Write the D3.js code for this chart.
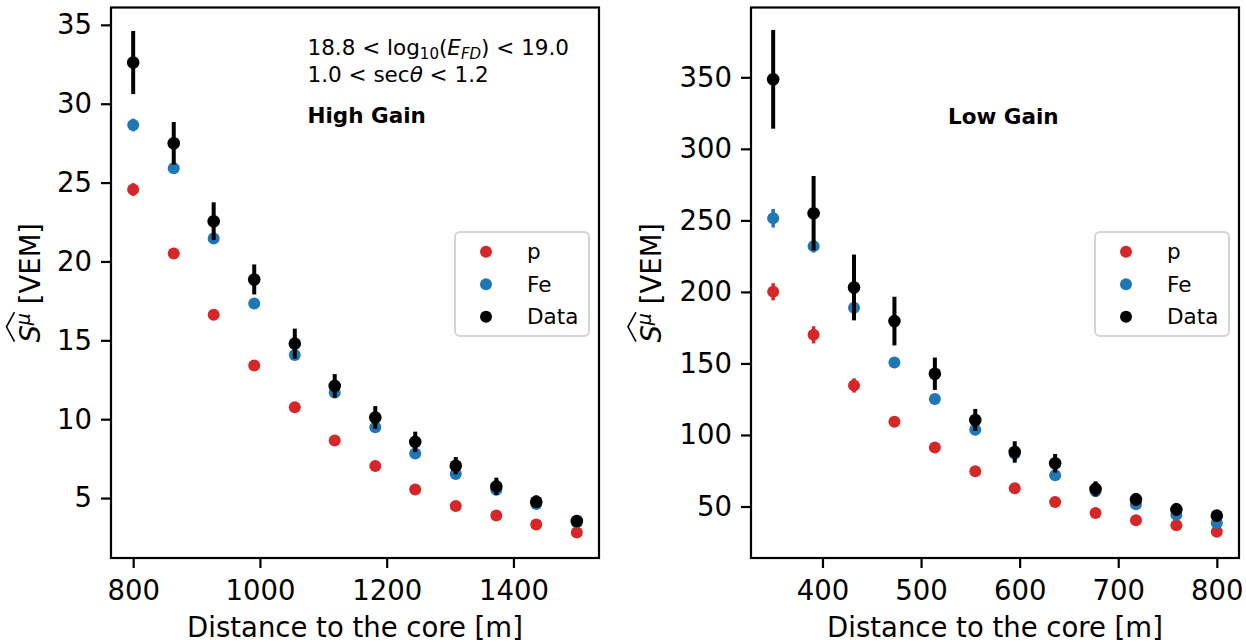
<!DOCTYPE html>
<html lang="en">
  <head>
    <meta charset="UTF-8" />
    <title>Muon signal vs distance</title>
    <script src="https://d3js.org/d3.v7.min.js"></script>
    <style>
      body {
        margin: 0;
        background: white;
      }
      text {
        font-family: "DejaVu Sans", sans-serif;
        fill: black;
      }
    </style>
  </head>
  <body>
    <svg id="chart" width="1246" height="644"></svg>
    <script>
      // High gain panel
      const hgDist = [800, 864, 927, 991, 1055, 1118, 1182, 1245, 1309, 1373, 1436, 1500];
      const hgP = [24.56, 20.51, 16.62, 13.4, 10.76, 8.65, 7.03, 5.55, 4.49, 3.9, 3.33, 2.82];
      const hgPErr = [0.4, 0.35, 0.25, 0.2, 0.15, 0.12, 0.1, 0.1, 0.08, 0.08, 0.07, 0.06];
      const hgFe = [28.65, 25.91, 21.46, 17.34, 14.07, 11.69, 9.49, 7.83, 6.52, 5.53, 4.62, 3.46];
      const hgFeErr = [0.4, 0.3, 0.25, 0.2, 0.2, 0.15, 0.12, 0.1, 0.1, 0.08, 0.07, 0.06];
      const hgData = [32.61, 27.49, 22.55, 18.86, 14.79, 12.11, 10.11, 8.56, 7.05, 5.74, 4.77, 3.55];
      const hgDataErr = [2.0, 1.35, 1.2, 0.95, 0.95, 0.75, 0.72, 0.65, 0.55, 0.55, 0.4, 0.2];

      // Low gain panel
      const lgDist = [350, 391, 432, 473, 514, 555, 595, 636, 677, 718, 759, 800];
      const lgP = [200.1, 170.0, 134.6, 109.3, 91.3, 74.6, 62.7, 53.2, 45.5, 40.4, 36.9, 32.3];
      const lgPErr = [6, 6, 5, 2.5, 2, 2, 1.5, 1.5, 1.2, 1, 1, 1];
      const lgFe = [251.5, 232.0, 188.9, 150.7, 125.1, 103.7, 86.9, 71.8, 60.9, 51.5, 44.3, 38.5];
      const lgFeErr = [6.5, 4.5, 3, 3, 2, 2, 1.5, 1.5, 1.2, 1, 1, 1];
      const lgData = [348.6, 255.0, 203.1, 179.6, 142.8, 110.5, 88.1, 80.2, 62.3, 55.0, 48.0, 43.6];
      const lgDataErr = [34.5, 26, 23, 17, 11.3, 7.7, 7.5, 6.5, 5.3, 4.5, 4.5, 2];

      const hgXTicks = [800, 1000, 1200, 1400];
      const hgYTicks = [5, 10, 15, 20, 25, 30, 35];
      const lgXTicks = [400, 500, 600, 700, 800];
      const lgYTicks = [50, 100, 150, 200, 250, 300, 350];

      const seriesNames = ["p", "Fe", "Data"];
      const colors = { p: "#d62728", Fe: "#1f77b4", Data: "#000000" };

      const svg = d3.select("#chart");
      const TICK_FONT = 27.5;
      const LEG_FONT = 21.5;

      function drawPanel(cfg) {
        const x = d3.scaleLinear().domain(cfg.xDomain).range([cfg.left, cfg.right]);
        const y = d3.scaleLinear().domain(cfg.yDomain).range([cfg.bottom, cfg.top]);
        const g = svg.append("g");

        // axes
        const xAxis = g
          .append("g")
          .attr("transform", `translate(0,${cfg.bottom})`)
          .call(d3.axisBottom(x).tickValues(cfg.xTicks).tickFormat(d3.format("d")).tickSize(10).tickPadding(6));
        const yAxis = g
          .append("g")
          .attr("transform", `translate(${cfg.left},0)`)
          .call(d3.axisLeft(y).tickValues(cfg.yTicks).tickFormat(d3.format("d")).tickSize(10).tickPadding(9));
        [xAxis, yAxis].forEach((a) => {
          a.select(".domain").remove();
          a.selectAll("line").attr("stroke", "black").attr("stroke-width", 2.2);
          a.selectAll("text").style("font-size", TICK_FONT + "px").attr("fill", "black");
        });
        xAxis.selectAll("text").attr("dy", null).attr("y", 41.5);

        // series
        const series = [
          { name: "p", vals: cfg.p, errs: cfg.pErr, r: 6, w: 3.5 },
          { name: "Fe", vals: cfg.fe, errs: cfg.feErr, r: 6, w: 3.5 },
          { name: "Data", vals: cfg.data, errs: cfg.dataErr, r: 6.3, w: 4 },
        ];
        series.forEach((s) => {
          const pts = cfg.dist.map((d, i) => ({ d, v: s.vals[i], e: s.errs[i] }));
          const sg = g.append("g");
          sg.selectAll("line")
            .data(pts)
            .enter()
            .append("line")
            .attr("x1", (p) => x(p.d))
            .attr("x2", (p) => x(p.d))
            .attr("y1", (p) => y(p.v - p.e))
            .attr("y2", (p) => y(p.v + p.e))
            .attr("stroke", colors[s.name])
            .attr("stroke-width", s.w);
          sg.selectAll("circle")
            .data(pts)
            .enter()
            .append("circle")
            .attr("cx", (p) => x(p.d))
            .attr("cy", (p) => y(p.v))
            .attr("r", s.r)
            .attr("fill", colors[s.name]);
        });

        // frame
        g.append("rect")
          .attr("x", cfg.left)
          .attr("y", cfg.top)
          .attr("width", cfg.right - cfg.left)
          .attr("height", cfg.bottom - cfg.top)
          .attr("fill", "none")
          .attr("stroke", "black")
          .attr("stroke-width", 2.2);

        // x label
        g.append("text")
          .attr("x", (cfg.left + cfg.right) / 2)
          .attr("y", 636.5)
          .attr("text-anchor", "middle")
          .style("font-size", TICK_FONT + "px")
          .text("Distance to the core [m]");

        // y label: widehat{S^mu} [VEM]
        const yl = g
          .append("g")
          .attr("transform", `translate(${cfg.yLabelX},${(cfg.top + cfg.bottom) / 2}) rotate(-90)`);
        const lt = yl.append("text").style("font-size", TICK_FONT + "px");
        lt.append("tspan").style("font-style", "italic").text("S");
        lt.append("tspan").style("font-style", "italic").style("font-size", "19px").attr("dy", -10).text("μ");
        lt.append("tspan").attr("dy", 10).text(" [VEM]");
        const total = lt.node().getComputedTextLength();
        const hatW = lt.node().getSubStringLength(0, 2);
        const x0 = -total / 2;
        lt.attr("x", x0);
        lt.select("tspan").attr("x", x0);
        yl.append("path")
          .attr("d", `M${x0 + 1},-25 L${x0 + hatW / 2 + 1},-33 L${x0 + hatW + 1},-25`)
          .attr("fill", "none")
          .attr("stroke", "black")
          .attr("stroke-width", 1.6);

        // legend
        const lg = g.append("g");
        lg.append("rect")
          .attr("x", cfg.right - 144)
          .attr("y", 232)
          .attr("width", 134)
          .attr("height", 104)
          .attr("rx", 5)
          .attr("fill", "white")
          .attr("fill-opacity", 0.8)
          .attr("stroke", "#d4d4d4")
          .attr("stroke-width", 2);
        seriesNames.forEach((n, i) => {
          const cy = 251.7 + i * 32.5;
          lg.append("circle")
            .attr("cx", cfg.right - 113)
            .attr("cy", cy)
            .attr("r", 6)
            .attr("fill", colors[n]);
          lg.append("text")
            .attr("x", cfg.right - 72)
            .attr("y", cy + 7.7)
            .style("font-size", LEG_FONT + "px")
            .text(n);
        });

        return { g, x, y };
      }

      const left = drawPanel({
        left: 111,
        right: 599,
        top: 7.5,
        bottom: 558,
        xDomain: [765, 1535],
        yDomain: [1.2, 36.1],
        xTicks: hgXTicks,
        yTicks: hgYTicks,
        dist: hgDist,
        p: hgP,
        pErr: hgPErr,
        fe: hgFe,
        feErr: hgFeErr,
        data: hgData,
        dataErr: hgDataErr,
        yLabelX: 39.5,
      });

      const right = drawPanel({
        left: 751,
        right: 1239,
        top: 7.5,
        bottom: 558,
        xDomain: [327.5, 822.5],
        yDomain: [14, 398.8],
        xTicks: lgXTicks,
        yTicks: lgYTicks,
        dist: lgDist,
        p: lgP,
        pErr: lgPErr,
        fe: lgFe,
        feErr: lgFeErr,
        data: lgData,
        dataErr: lgDataErr,
        yLabelX: 661,
      });

      // annotations
      const ann = left.g.append("g").style("font-size", LEG_FONT + "px");
      const l1 = ann.append("text").attr("x", 307.5).attr("y", 55);
      l1.append("tspan").text("18.8 < log");
      l1.append("tspan").style("font-size", "15px").attr("dy", 4).text("10");
      l1.append("tspan").attr("dy", -4).text("(");
      l1.append("tspan").style("font-style", "italic").text("E");
      l1.append("tspan").style("font-style", "italic").style("font-size", "15px").attr("dy", 4).text("FD");
      l1.append("tspan").attr("dy", -4).text(") < 19.0");
      const l2 = ann.append("text").attr("x", 307.5).attr("y", 81.7);
      l2.append("tspan").text("1.0 < sec");
      l2.append("tspan").style("font-style", "italic").text("θ");
      l2.append("tspan").text(" < 1.2");
      ann.append("text").attr("x", 307.5).attr("y", 123.3).style("font-weight", "bold").text("High Gain");

      right.g
        .append("text")
        .attr("x", 948)
        .attr("y", 124)
        .style("font-size", LEG_FONT + "px")
        .style("font-weight", "bold")
        .text("Low Gain");
    </script>
  </body>
</html>
